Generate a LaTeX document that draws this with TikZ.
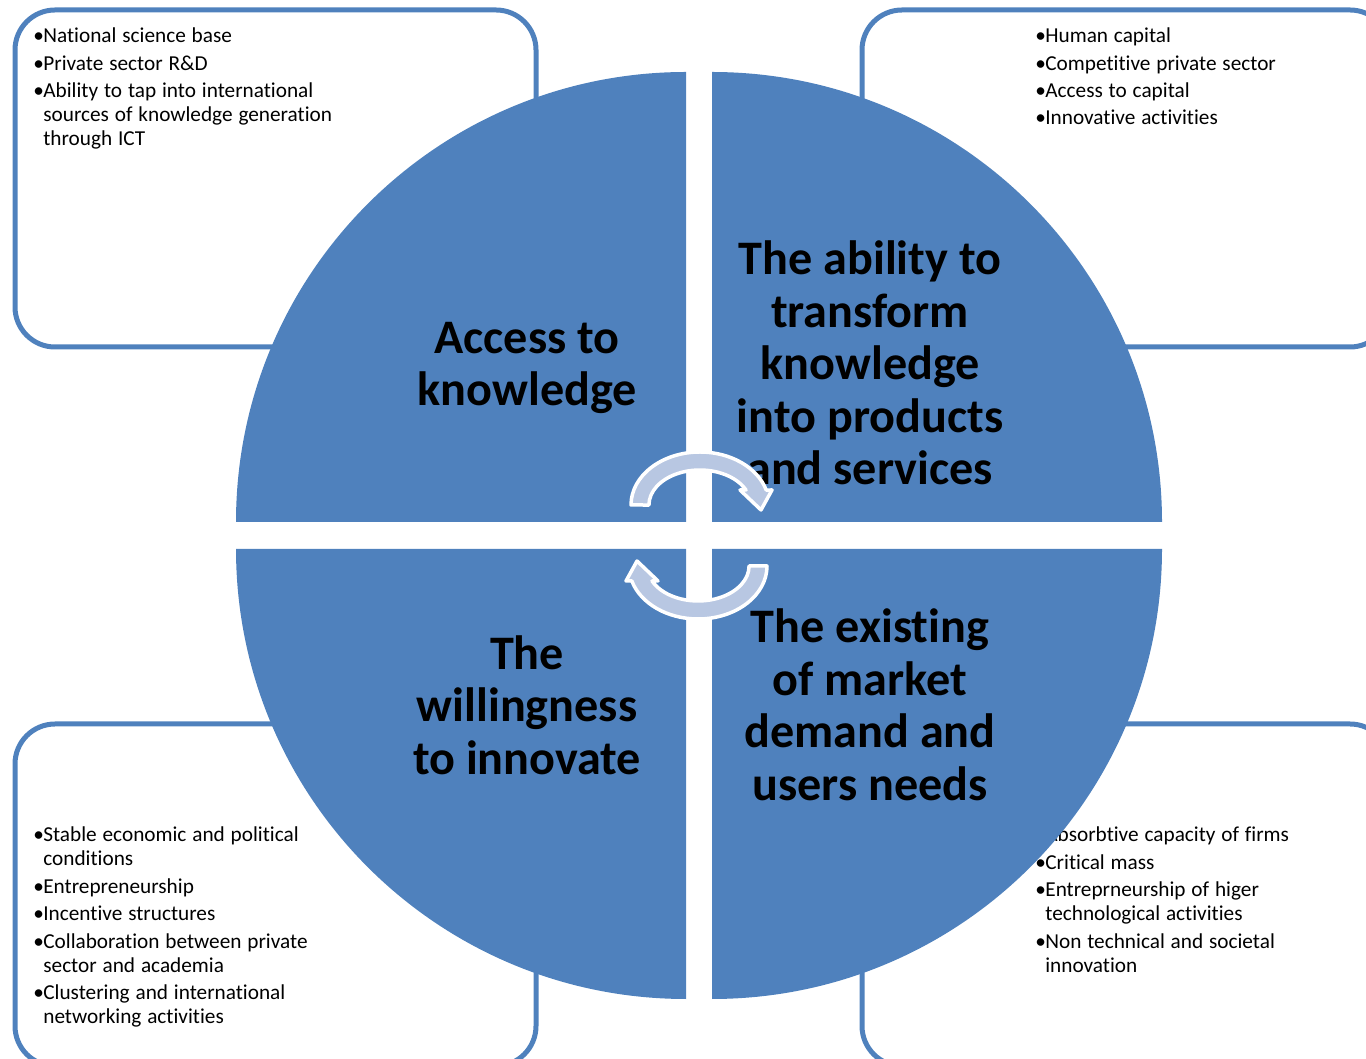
\documentclass[tikz,border=0pt]{standalone}
\usepackage{fontspec}
\setmainfont{Carlito}[Ligatures=NoCommon]
\usetikzlibrary{positioning}

\definecolor{wedgeblue}{RGB}{79,129,189}
\definecolor{cyclefill}{RGB}{184,199,226}

\newcommand{\bulletitem}[1]{\par\hangindent=2mm\hangafter=1\noindent\makebox[2mm][l]{\textbullet}#1\par}

\begin{document}
\begin{tikzpicture}
	[
		x=0.2mm, y=0.2mm,
		wedge/.style={fill=wedgeblue},
		factorbox/.style={draw=wedgeblue, line width=1mm, rounded corners=8mm},
		factorlist/.style={anchor=north west, inner sep=0pt, text width=80mm, align=left, execute at begin node={\fontsize{12.1}{13.7}\selectfont\setlength{\parskip}{1.9pt}}},
		bigtitle/.style={align=center, inner sep=0pt, font=\fontsize{27.4}{29.9}\selectfont\bfseries},
		cyclearrow/.style={fill=cyclefill, draw=white, line width=0.7mm, line join=round},
	]

	\useasboundingbox (0,0) rectangle (1366,1058);
	\clip (0,0) rectangle (1366,1058);

	% boxes behind the circle
	\draw[factorbox] (15,1048) rectangle (536,711);
	\draw[factorbox] (862,1048) rectangle (1390,711);
	\draw[factorbox] (15,334) rectangle (536,-8);
	\draw[factorbox] (862,334) rectangle (1390,-8);

	\node[factorlist] (knowlist) at (33,1043) {\bulletitem{National science base}\bulletitem{Private sector R\&D}\bulletitem{Ability to tap into international\newline sources of knowledge generation\newline through ICT}};
	\node[factorlist] (transformlist) at (1035,1043) {\bulletitem{Human capital}\bulletitem{Competitive private sector}\bulletitem{Access to capital}\bulletitem{Innovative activities}};
	\node[factorlist] (willlist) at (33,244) {\bulletitem{Stable economic and political\newline conditions}\bulletitem{Entrepreneurship}\bulletitem{Incentive structures}\bulletitem{Collaboration between private\newline sector and academia}\bulletitem{Clustering and international\newline networking activities}};
	\node[factorlist] (marketlist) at (1035,244) {\bulletitem{Absorbtive capacity of firms}\bulletitem{Critical mass}\bulletitem{Entreprneurship of higer\newline technological activities}\bulletitem{Non technical and societal\newline innovation}};

	% four quarters
	\fill[wedge] (686,536) -- (236,536) arc[start angle=180, end angle=90, radius=450] -- cycle;
	\fill[wedge] (712,536) -- (712,986) arc[start angle=90, end angle=0, radius=450] -- cycle;
	\fill[wedge] (686,509) -- (686,59) arc[start angle=270, end angle=180, radius=450] -- cycle;
	\fill[wedge] (712,509) -- (1162,509) arc[start angle=0, end angle=-90, radius=450] -- cycle;

	\node[bigtitle] (access) at (527,690) {Access to\\knowledge};
	\node[bigtitle] (transform) at (870,695) {The ability to\\transform\\knowledge\\into products\\and services};
	\node[bigtitle] (willing) at (527,353) {The\\willingness\\to innovate};
	\node[bigtitle] (market) at (870,353) {The existing\\of market\\demand and\\users needs};

	% cycle arrows in the middle
	\foreach \cx/\cy/\turn in {700/553/0, 698/492/180}
		\path[cyclearrow, shift={(\cx,\cy)}, rotate=\turn] (-69,0) arc[start angle=180, end angle=16.4, x radius=69, y radius=53] -- (72,15) -- (61,-5) -- (40,15) -- (46,15) arc[start angle=25.4, end angle=180, x radius=51, y radius=35] -- cycle;

\end{tikzpicture}
\end{document}
